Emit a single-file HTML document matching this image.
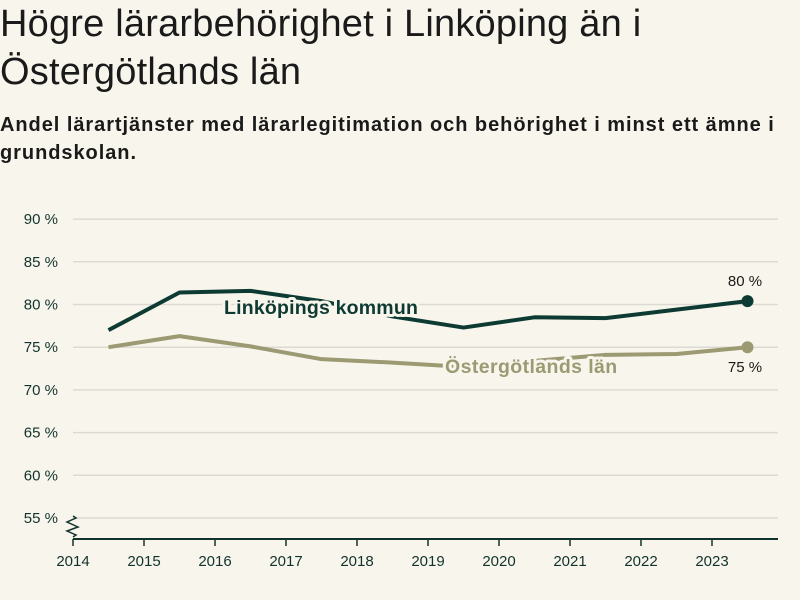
<!DOCTYPE html>
<html><head><meta charset="utf-8"><style>
body{margin:0;background:#f8f6ec;font-family:"Liberation Sans",sans-serif;}
#wrap{position:relative;width:800px;height:600px;overflow:hidden;background:#f8f6ec;color:#1a1a1a;}
h1{position:absolute;left:0;top:0;margin:0;font-size:38px;font-weight:400;line-height:48px;width:700px;letter-spacing:0.2px;}
h2{position:absolute;left:0;top:111px;margin:0;font-size:20px;font-weight:700;line-height:28px;width:795px;letter-spacing:0.95px;}
</style></head><body>
<div id="wrap">
<h1>Högre lärarbehörighet i Linköping än i Östergötlands län</h1>
<h2>Andel lärartjänster med lärarlegitimation och behörighet i minst ett ämne i grundskolan.</h2>
<svg id="chart" width="800" height="600" style="position:absolute;left:0;top:0"></svg>
</div>
<script>
const years=[2014.5,2015.5,2016.5,2017.5,2018.5,2019.5,2020.5,2021.5,2022.5,2023.5];
const linkoping=[77.0,81.4,81.6,80.4,78.6,77.3,78.5,78.4,79.4,80.4];
const ostergotland=[75.0,76.3,75.1,73.6,73.2,72.7,73.4,74.1,74.2,75.0];
const yTicks=[55,60,65,70,75,80,85,90];
const xTicks=[2014,2015,2016,2017,2018,2019,2020,2021,2022,2023];
const NS="http://www.w3.org/2000/svg";
const svg=document.getElementById('chart');
const x=v=>73+(v-2014)*71;
const y=v=>518-(v-55)*8.54;
function mk(t,a){const e=document.createElementNS(NS,t);for(const k in a)e.setAttribute(k,a[k]);svg.appendChild(e);return e;}
yTicks.forEach(t=>{
 const l=mk('line',{x1:73,x2:778,y1:y(t),y2:y(t),stroke:'#dcdad2','stroke-width':1.5});
 
 
 const tx=mk('text',{x:58,y:y(t)+5,'text-anchor':'end','font-size':15,fill:'#12332d'});
 tx.textContent=t+' %';
 
 
});
const ax=mk('line',{x1:73,x2:778,y1:539,y2:539,stroke:'#12332d','stroke-width':2});


const br=mk('path',{d:'M73,516 L76,518 L67,522 L78,527 L67,531 L76,535 L73,537',fill:'none',stroke:'#12332d','stroke-width':1.5});


xTicks.forEach(t=>{
 const l=mk('line',{x1:x(t),x2:x(t),y1:539,y2:546,stroke:'#12332d','stroke-width':1.5});
 
 
 const tx=mk('text',{x:x(t),y:566,'text-anchor':'middle','font-size':15,fill:'#12332d'});
 tx.textContent=t;
 
 
});
function series(vals,col,name){
 const p=mk('polyline',{points:vals.map((v,i)=>x(years[i])+','+y(v)).join(' '),fill:'none',stroke:col,'stroke-width':4,'stroke-linejoin':'round'});
 
 
 const n=vals.length-1;
 const c=mk('circle',{cx:x(years[n]),cy:y(vals[n]),r:6,fill:col});
 
 
}
const dark='#0d3a32',olive='#9b9a73';
series(ostergotland,olive,'ostergotland');
series(linkoping,dark,'linkoping');
function lbl(tx,xx,yy,col,name,anchor,size,bold,ls){
 const t=mk('text',{x:xx,y:yy,'font-size':size,fill:col,'text-anchor':anchor||'start',stroke:'#f8f6ec','stroke-width':6,'paint-order':'stroke','stroke-linejoin':'round','font-weight':bold?'700':'400','letter-spacing':ls||0});
 t.textContent=tx;
 
 
}
lbl('Linköpings kommun',224,314,dark,'linkoping-label','start',19.5,true,0.2);
lbl('Östergötlands län',445,373,olive,'ostergotland-label','start',19.5,true,0.4);
lbl(Math.round(linkoping[linkoping.length-1])+' %',745,286,'#1a1a1a','linkoping-value','middle',15,false);
lbl(Math.round(ostergotland[ostergotland.length-1])+' %',745,372,'#1a1a1a','ostergotland-value','middle',15,false);
</script>
</body></html>
